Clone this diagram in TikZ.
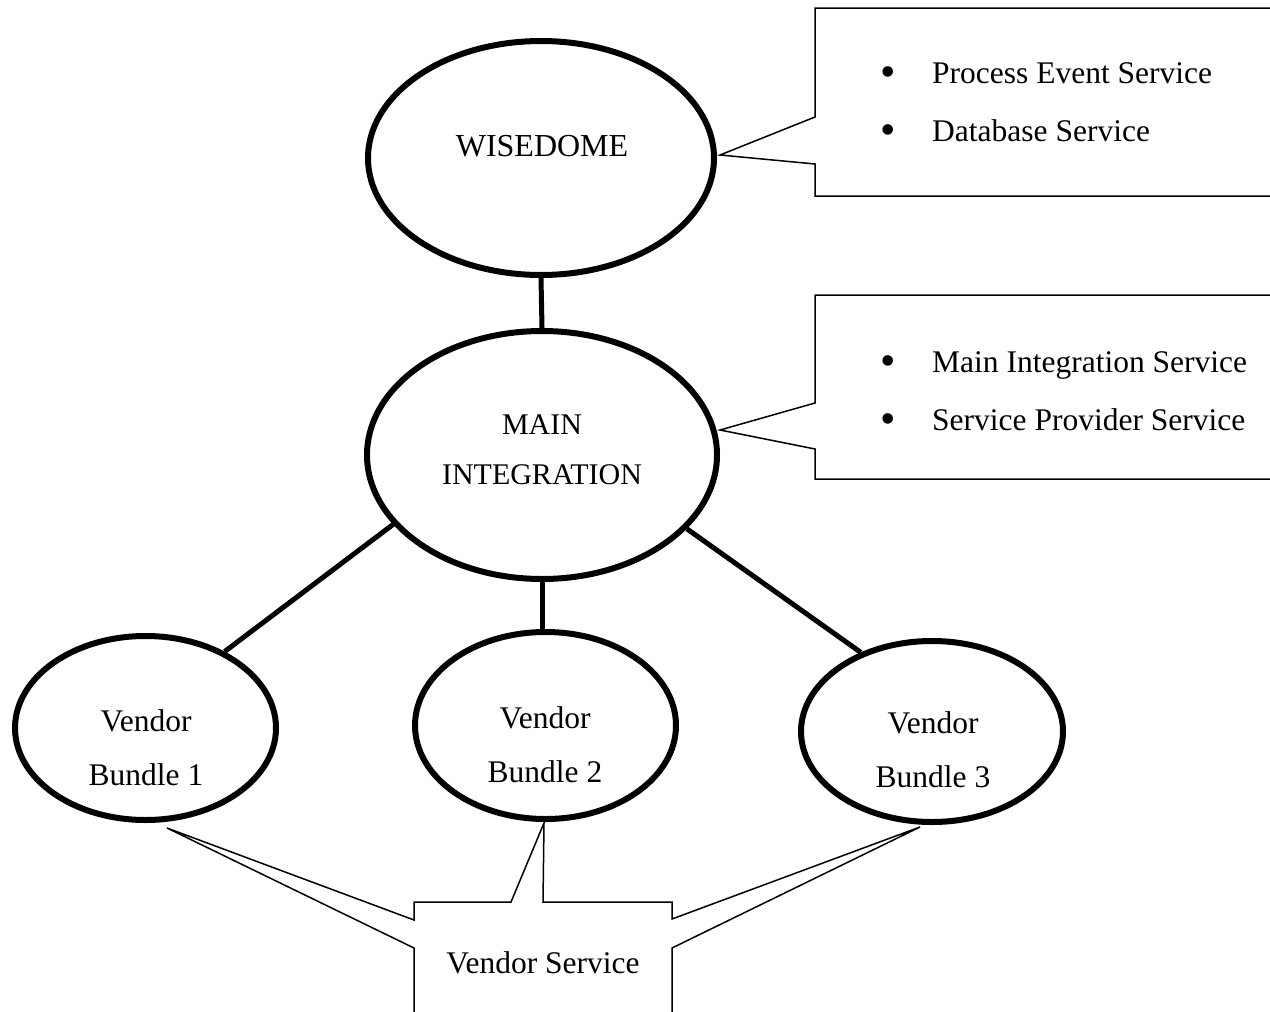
\documentclass[tikz,border=0pt]{standalone}
\usepackage{fontspec}
\setmainfont{Liberation Serif}
\usetikzlibrary{shapes.geometric}
\begin{document}
\begin{tikzpicture}[x=1pt,y=-1pt,
  bubble/.style={draw, ellipse, line width=6pt, inner sep=0pt, fill=white},
  lbl/.style={inner sep=0pt, align=center, font=\fontsize{31.5}{54}\selectfont},
  caplbl/.style={inner sep=0pt, align=center, font=\fontsize{30}{50}\selectfont},
  item/.style={inner sep=0pt, anchor=base west, font=\fontsize{31.5}{40}\selectfont},
  bul/.style={inner sep=0pt, anchor=base, font=\fontsize{44}{44}\selectfont},
  link/.style={line width=5pt},
  callout/.style={draw, line width=1.5pt, fill=white, line join=miter}]
\useasboundingbox (0,0) rectangle (1270,1012);
\clip (0,0) rectangle (1270,1012);
\fill[white] (0,0) rectangle (1270,1012);

% ellipses
\node[bubble, minimum width=346pt, minimum height=234pt] (wise) at (541,158) {};
\node[bubble, minimum width=350pt, minimum height=248pt] (main) at (542,455) {};
\node[bubble, minimum width=261pt, minimum height=184pt] (v1) at (145.5,728) {};
\node[bubble, minimum width=261pt, minimum height=187pt] (v2) at (545.5,725.5) {};
\node[bubble, minimum width=262pt, minimum height=181pt] (v3) at (932,731.5) {};

% labels
\node[caplbl, font=\fontsize{32}{50}\selectfont] (wiset) at (542,146) {WISEDOME};
\node[caplbl] (maint) at (542,450) {MAIN\\INTEGRATION};
\node[lbl] (v1t) at (146,748) {Vendor\\Bundle 1};
\node[lbl] (v2t) at (545,745) {Vendor\\Bundle 2};
\node[lbl] (v3t) at (933,750) {Vendor\\Bundle 3};

% connectors
\draw[link] (wise.south) -- (main.north);
\draw[link] (main.205.8) -- (v1.44.8);
\draw[link] (main.south) -- (main.south |- v2.north);
\draw[link] (main.333.6) -- (v3.132.2);

% top callout
\coordinate (tipA) at (720,155);
\draw[callout] (815,8) -- (1300,8) -- (1300,196) -- (815,196) -- (815,164)
  -- (tipA) -- (815,117) -- cycle;
\node[bul] (bA1) at (888,86) {\textbullet};
\node[item] (tA1) at (932,83) {Process Event Service};
\node[bul] (bA2) at (888,144) {\textbullet};
\node[item] (tA2) at (932,141) {Database Service};

% middle callout
\coordinate (tipB) at (720,430);
\draw[callout] (815,295) -- (1300,295) -- (1300,479) -- (815,479) -- (815,449)
  -- (tipB) -- (815,403) -- cycle;
\node[bul] (bB1) at (888,375) {\textbullet};
\node[item] (tB1) at (932,372) {Main Integration Service};
\node[bul] (bB2) at (888,433) {\textbullet};
\node[item] (tB2) at (932,430) {Service Provider Service};

% bottom callout
\coordinate (tipL) at (167,828);
\coordinate (tipM) at (544,823);
\coordinate (tipR) at (920,827);
\draw[callout] (414,902) -- (511,902) -- (tipM) -- (543,902) -- (672,902)
  -- (672,919) -- (tipR) -- (672,948) -- (672,1030) -- (414,1030)
  -- (414,948) -- (tipL) -- (414,920) -- cycle;
\node[inner sep=0pt, anchor=base, font=\fontsize{31.5}{40}\selectfont] (vs) at (543,973) {Vendor Service};
\end{tikzpicture}
\end{document}
